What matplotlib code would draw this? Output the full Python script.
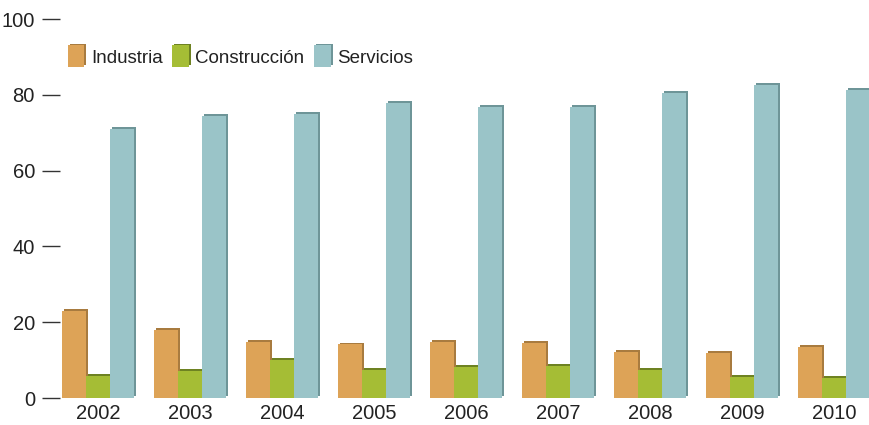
import numpy as np
import matplotlib
matplotlib.use('Agg')
import matplotlib.pyplot as plt
import matplotlib.patheffects as pe

plt.rcParams['font.family'] = ['Liberation Sans', 'DejaVu Sans']

years = ['2002', '2003', '2004', '2005', '2006', '2007', '2008', '2009', '2010']
industria = [23.0, 17.9, 14.8, 14.2, 14.8, 14.5, 12.1, 11.9, 13.5]
construccion = [5.8, 7.1, 10.0, 7.4, 8.2, 8.4, 7.4, 5.5, 5.3]
servicios = [71.0, 74.4, 74.9, 77.8, 76.8, 76.8, 80.5, 82.6, 81.3]

series = [('Industria', industria, '#DDA357', '#A87B3F'),
          ('Construcción', construccion, '#A5BD35', '#6E8222'),
          ('Servicios', servicios, '#9AC4C8', '#6E9598')]

fig = plt.figure(figsize=(8.7, 4.25), dpi=100)
ax = fig.add_axes([60 / 870, (425 - 398) / 425, 810 / 870, 379 / 425])

x = np.arange(len(years))
w = 0.26
for i, (name, vals, col, dark) in enumerate(series):
    ax.bar(x + (i - 1) * w, vals, w, color=col, label=name,
           path_effects=[pe.SimplePatchShadow(offset=(1.5, 1.2), shadow_rgbFace=dark, alpha=1),
                         pe.Normal()])

ax.set_xlim(-0.413, 8.39)
ax.set_ylim(0, 100)
ax.set_yticks([0, 20, 40, 60, 80, 100])
ax.set_xticks(x)
ax.set_xticklabels(years)
for s in ax.spines.values():
    s.set_visible(False)
ax.tick_params(axis='y', length=13, width=1, color='#333333', labelcolor='#222222',
               labelsize=14.5, pad=5)
ax.tick_params(axis='x', length=0, labelsize=14.5, labelcolor='#222222', pad=4)

leg = ax.legend(loc='upper left', bbox_to_anchor=(0.0, 0.95), ncol=3, frameon=False,
                fontsize=13.5, handlelength=0.9, handleheight=1.4, handletextpad=0.35,
                columnspacing=0.5, borderaxespad=0)
for t in leg.get_texts():
    t.set_color('#222222')

fig.savefig('out.png', dpi=100)
